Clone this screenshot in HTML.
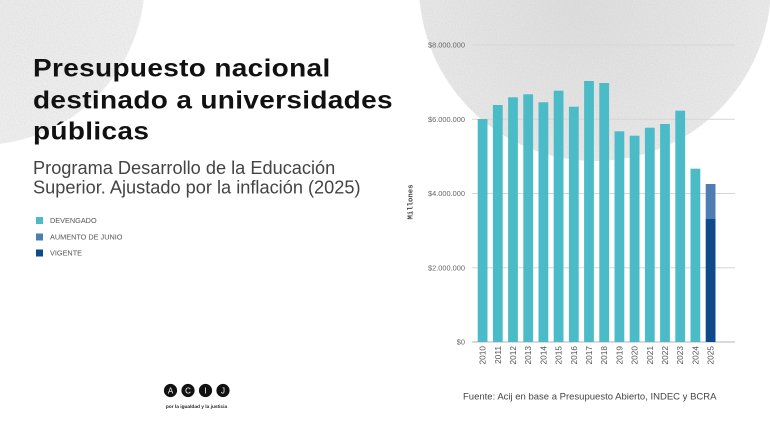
<!DOCTYPE html>
<html><head><meta charset="utf-8"><style>
html,body{margin:0;padding:0;background:#fff;width:770px;height:430px;overflow:hidden}
svg{display:block}
</style></head><body>
<svg width="770" height="430" viewBox="0 0 770 430" xmlns="http://www.w3.org/2000/svg" font-family="Liberation Sans, sans-serif">
<defs>
<radialGradient id="rg" cx="0.45" cy="0.55" r="0.6">
<stop offset="0" stop-color="#dedede"/><stop offset="0.6" stop-color="#e6e6e6"/><stop offset="1" stop-color="#ececec"/>
</radialGradient>
<radialGradient id="lg" cx="0.6" cy="0.6" r="0.6">
<stop offset="0" stop-color="#ebebeb"/><stop offset="1" stop-color="#f1f1f1"/>
</radialGradient>
<filter id="grain" x="0" y="0" width="100%" height="100%">
<feTurbulence type="fractalNoise" baseFrequency="0.9" numOctaves="2" seed="4" result="n"/>
<feColorMatrix in="n" type="matrix" values="0 0 0 0 0.5  0 0 0 0 0.5  0 0 0 0 0.5  0 0 0 -1.6 1.0" result="g"/>
<feComposite in="g" in2="SourceGraphic" operator="in"/>
</filter>
<clipPath id="cR"><circle cx="595" cy="-15" r="176"/></clipPath>
<clipPath id="cL"><circle cx="-20" cy="-20" r="165"/></clipPath>
</defs>
<rect width="770" height="430" fill="#fff"/>
<!-- background circles -->
<circle cx="-20" cy="-20" r="165" fill="url(#lg)"/>
<circle cx="595" cy="-15" r="176" fill="url(#rg)"/>
<g opacity="0.35">
<rect x="0" y="0" width="150" height="150" fill="#000" clip-path="url(#cL)" filter="url(#grain)"/>
<rect x="415" y="0" width="355" height="165" fill="#000" clip-path="url(#cR)" filter="url(#grain)"/>
</g>

<!-- title -->
<g font-weight="bold" font-size="25" fill="#111" letter-spacing="0.3">
<text transform="translate(33,76.7) scale(1.12,1)" x="0" y="0">Presupuesto nacional</text>
<text transform="translate(33,108.3) scale(1.12,1)" x="0" y="0">destinado a universidades</text>
<text transform="translate(33,139.5) scale(1.12,1)" x="0" y="0">públicas</text>
</g>
<g font-size="18.2" fill="#444">
<text x="33" y="174">Programa Desarrollo de la Educación</text>
<text x="33" y="193.5">Superior. Ajustado por la inflación (2025)</text>
</g>

<!-- legend -->
<rect x="36" y="217" width="7" height="7" fill="#4bbcc7"/>
<rect x="36" y="233.5" width="7" height="7" fill="#4e7db4"/>
<rect x="36" y="249.5" width="7" height="7" fill="#0c4a8c"/>
<g font-size="7.3" fill="#555">
<text x="50" y="223">DEVENGADO</text>
<text x="50" y="239.5">AUMENTO DE JUNIO</text>
<text x="50" y="255.5">VIGENTE</text>
</g>

<!-- gridlines -->
<g stroke="#d6d6d6" stroke-width="1">
<line x1="472" y1="45" x2="735" y2="45"/>
<line x1="472" y1="119.3" x2="735" y2="119.3"/>
<line x1="472" y1="193.5" x2="735" y2="193.5"/>
<line x1="472" y1="267.8" x2="735" y2="267.8"/>
</g>
<line x1="472" y1="342" x2="735" y2="342" stroke="#b5b5b5" stroke-width="1"/>

<!-- y tick labels -->
<g font-size="7.4" fill="#666" text-anchor="end">
<text x="465" y="47.7">$8.000.000</text>
<text x="465" y="122">$6.000.000</text>
<text x="465" y="196.2">$4.000.000</text>
<text x="465" y="270.5">$2.000.000</text>
<text x="465" y="344.7">$0</text>
</g>
<text transform="translate(412.5,202) rotate(-90)" text-anchor="middle" font-family="Liberation Mono, monospace" font-weight="bold" font-size="7.3" fill="#444">Millones</text>

<!-- bars -->
<g fill="#4bbcc7">
<rect x="477.7" y="119" width="9.8" height="223"/>
<rect x="492.9" y="105" width="9.8" height="237"/>
<rect x="508.1" y="97.3" width="9.8" height="244.7"/>
<rect x="523.3" y="94.3" width="9.8" height="247.7"/>
<rect x="538.5" y="102.3" width="9.8" height="239.7"/>
<rect x="553.7" y="90.7" width="9.8" height="251.3"/>
<rect x="568.9" y="106.7" width="9.8" height="235.3"/>
<rect x="584.1" y="81" width="9.8" height="261"/>
<rect x="599.3" y="83" width="9.8" height="259"/>
<rect x="614.5" y="131.3" width="9.8" height="210.7"/>
<rect x="629.7" y="135.7" width="9.8" height="206.3"/>
<rect x="644.9" y="127.7" width="9.8" height="214.3"/>
<rect x="660.1" y="124" width="9.8" height="218"/>
<rect x="675.3" y="110.7" width="9.8" height="231.3"/>
<rect x="690.5" y="168.7" width="9.8" height="173.3"/>
</g>
<rect x="705.7" y="184" width="9.8" height="35" fill="#4e7db4"/>
<rect x="705.7" y="219" width="9.8" height="123" fill="#0c4a8c"/>

<!-- year labels -->
<g font-size="8.3" fill="#555" text-anchor="end">
<text transform="translate(485.6,346) rotate(-90)">2010</text>
<text transform="translate(500.8,346) rotate(-90)">2011</text>
<text transform="translate(516,346) rotate(-90)">2012</text>
<text transform="translate(531.2,346) rotate(-90)">2013</text>
<text transform="translate(546.4,346) rotate(-90)">2014</text>
<text transform="translate(561.6,346) rotate(-90)">2015</text>
<text transform="translate(576.8,346) rotate(-90)">2016</text>
<text transform="translate(592,346) rotate(-90)">2017</text>
<text transform="translate(607.2,346) rotate(-90)">2018</text>
<text transform="translate(622.4,346) rotate(-90)">2019</text>
<text transform="translate(637.6,346) rotate(-90)">2020</text>
<text transform="translate(652.8,346) rotate(-90)">2021</text>
<text transform="translate(668,346) rotate(-90)">2022</text>
<text transform="translate(683.2,346) rotate(-90)">2023</text>
<text transform="translate(698.4,346) rotate(-90)">2024</text>
<text transform="translate(713.6,346) rotate(-90)">2025</text>
</g>

<!-- logo -->
<g>
<circle cx="170.5" cy="390.5" r="6.6" fill="#111"/>
<circle cx="188" cy="390.5" r="6.6" fill="#111"/>
<circle cx="205.5" cy="390.5" r="6.6" fill="#111"/>
<circle cx="223" cy="390.5" r="6.6" fill="#111"/>
<g font-size="8" fill="#fff" text-anchor="middle">
<text x="170.5" y="393.4">A</text>
<text x="188" y="393.4">C</text>
<text x="205.5" y="393.4">I</text>
<text x="223" y="393.4">J</text>
</g>
<text x="196.5" y="408" font-size="4.8" font-weight="bold" fill="#222" text-anchor="middle">por la igualdad y la justicia</text>
</g>

<!-- source -->
<text x="463" y="399.5" font-size="9.5" fill="#444">Fuente: Acij en base a Presupuesto Abierto, INDEC y BCRA</text>
</svg>
</body></html>
